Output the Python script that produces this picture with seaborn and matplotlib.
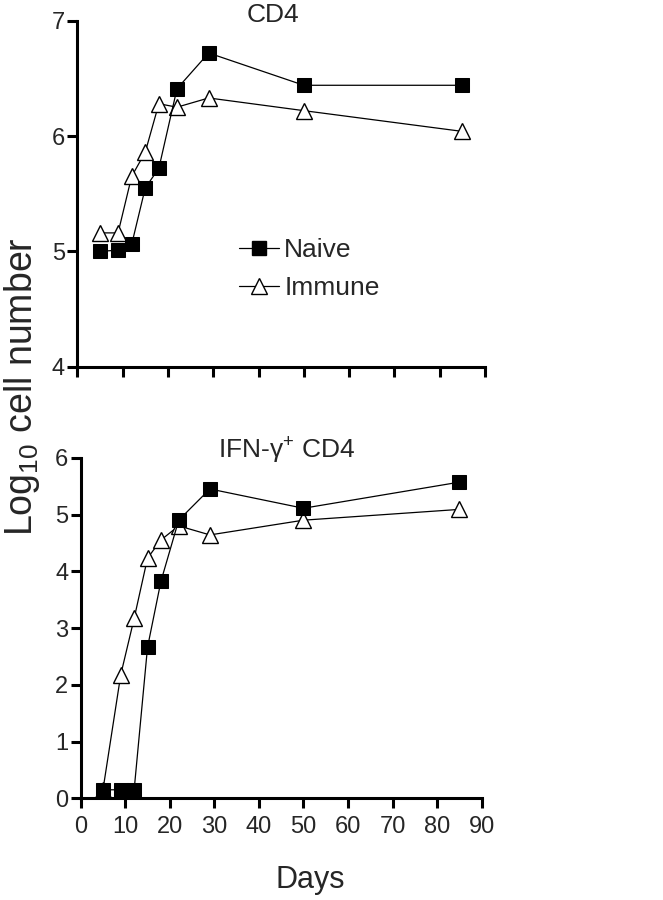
import matplotlib
matplotlib.use("Agg")
import matplotlib.pyplot as plt
import seaborn as sns
import pandas as pd
from matplotlib.lines import Line2D

# days post infection
days = [5, 9, 12, 15, 18, 22, 29, 50, 85]

# top panel: CD4
cd4_naive = [5.00, 5.01, 5.06, 5.55, 5.72, 6.41, 6.72, 6.44, 6.44]
cd4_immune = [5.16, 5.16, 5.65, 5.86, 6.28, 6.25, 6.33, 6.22, 6.04]

# bottom panel: IFN-g+ CD4
ifn_naive = [0.15, 0.15, 0.15, 2.66, 3.82, 4.90, 5.45, 5.11, 5.57]
ifn_immune = [0.15, 2.18, 3.17, 4.23, 4.55, 4.80, 4.64, 4.90, 5.09]

x_ticks = list(range(0, 100, 10))

sns.set_style("white")
plt.rcParams["font.family"] = ["Liberation Sans", "DejaVu Sans"]
plt.rcParams["mathtext.fontset"] = "custom"
plt.rcParams["mathtext.rm"] = "Liberation Sans"
plt.rcParams["mathtext.it"] = "Liberation Sans:italic"

fig = plt.figure(figsize=(6.63, 9), dpi=100)
ax1 = fig.add_axes([0.1166, 0.5926, 0.615, 0.3844])
ax2 = fig.add_axes([0.1217, 0.113, 0.6048, 0.3784])

naive_kw = dict(marker="s", color="black", markersize=10, markerfacecolor="black",
                markeredgecolor="black", linewidth=0.9, clip_on=False)
immune_kw = dict(marker="^", color="black", markersize=12, markerfacecolor="white",
                 markeredgecolor="black", markeredgewidth=1.0, linewidth=0.9, clip_on=False)


def panel(ax, naive, immune, ylim, yticks):
    df_n = pd.DataFrame({"day": days, "val": naive})
    df_i = pd.DataFrame({"day": days, "val": immune})
    # immune first so the squares sit on top
    sns.lineplot(data=df_i, x="day", y="val", ax=ax, **immune_kw)
    sns.lineplot(data=df_n, x="day", y="val", ax=ax, **naive_kw)
    ax.set_xlim(0, 90)
    ax.set_ylim(*ylim)
    ax.set_xticks(x_ticks)
    ax.set_yticks(yticks)
    ax.set_xlabel("")
    ax.set_ylabel("")
    for s in ["top", "right"]:
        ax.spines[s].set_visible(False)
    for s in ["left", "bottom"]:
        ax.spines[s].set_linewidth(2.2)
        ax.spines[s].set_color("black")
    ax.tick_params(axis="both", direction="out", length=7.5, width=2.2, color="black",
                   labelsize=17, left=True, bottom=True)
    ax.tick_params(axis="y", pad=1.5)
    ax.tick_params(axis="x", pad=5)


panel(ax1, cd4_naive, cd4_immune, (4, 7), [4, 5, 6, 7])
ax1.tick_params(axis="x", labelbottom=False)
panel(ax2, ifn_naive, ifn_immune, (0, 6), [0, 1, 2, 3, 4, 5, 6])

ax1.text(0.48, 1.016, "CD4", transform=ax1.transAxes, ha="center", va="center", fontsize=19)
ax2.text(0.514, 1.02, "IFN-γ$^{+}$ CD4", transform=ax2.transAxes, ha="center", va="center",
         fontsize=19)

handles = [Line2D([], [], **{k: v for k, v in naive_kw.items() if k != "clip_on"}),
           Line2D([], [], **{k: v for k, v in immune_kw.items() if k != "clip_on"})]
ax1.legend(handles, ["Naive", "Immune"], loc="center left", bbox_to_anchor=(0.365, 0.282),
           frameon=False, fontsize=19, borderpad=0, handlelength=1.5, handletextpad=0.2,
           labelspacing=0.55)

fig.text(0.033, 0.57, "Log$_{10}$ cell number", rotation=90, ha="center", va="center",
         fontsize=27)
fig.text(0.468, 0.022, "Days", ha="center", va="center", fontsize=22)

fig.savefig("out.png", dpi=100)
